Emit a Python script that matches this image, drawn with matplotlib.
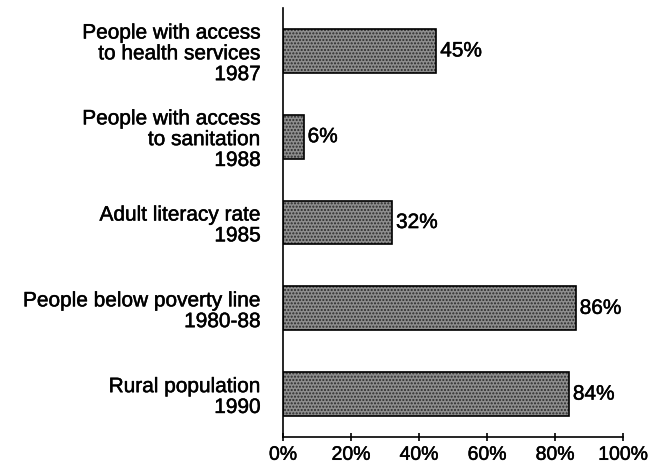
import matplotlib
matplotlib.use("Agg")
import matplotlib.pyplot as plt
import matplotlib.patheffects as pe

categories = [
    "People with access\nto health services\n1987",
    "People with access\nto sanitation\n1988",
    "Adult literacy rate\n1985",
    "People below poverty line\n1980-88",
    "Rural population\n1990",
]
values = [45, 6, 32, 86, 84]
xticks = [0, 20, 40, 60, 80, 100]

plt.rcParams['font.family'] = ['Liberation Sans', 'DejaVu Sans']

# scanned print look: slightly heavier strokes on text
heavy = [pe.withStroke(linewidth=0.35, foreground='black')]

fig = plt.figure(figsize=(6.63, 4.73), dpi=100)
ax = fig.add_axes([0.427, 0.076, 0.513, 0.907])

pos = list(range(len(values)))
# stippled grey fill, then black outline
ax.barh(pos, values, height=0.51, color='#8e8e8e', edgecolor='#2a2a2a',
        hatch='.....', linewidth=0)
ax.barh(pos, values, height=0.51, facecolor='none', edgecolor='black',
        linewidth=1.2)

for p, v in zip(pos, values):
    ax.text(v + 1.2, p, f"{v}%", va='center', ha='left', fontsize=15,
            path_effects=heavy)

ax.set_yticks(pos)
ax.set_yticklabels(categories, fontsize=15, linespacing=1.12)
ax.tick_params(axis='y', length=0, pad=16)
for lab in ax.get_yticklabels():
    lab.set_path_effects(heavy)
ax.set_ylim(4.5, -0.5)

ax.set_xlim(0, 100)
ax.set_xticks(xticks)
ax.set_xticklabels([f"{t}%" for t in xticks], fontsize=14)
ax.tick_params(axis='x', direction='inout', length=6, width=1.2, pad=4)
for lab in ax.get_xticklabels():
    lab.set_path_effects(heavy)

for side in ['top', 'right']:
    ax.spines[side].set_visible(False)
ax.spines['left'].set_linewidth(1.2)
ax.spines['bottom'].set_linewidth(1.2)

fig.savefig("out.png", dpi=100)
